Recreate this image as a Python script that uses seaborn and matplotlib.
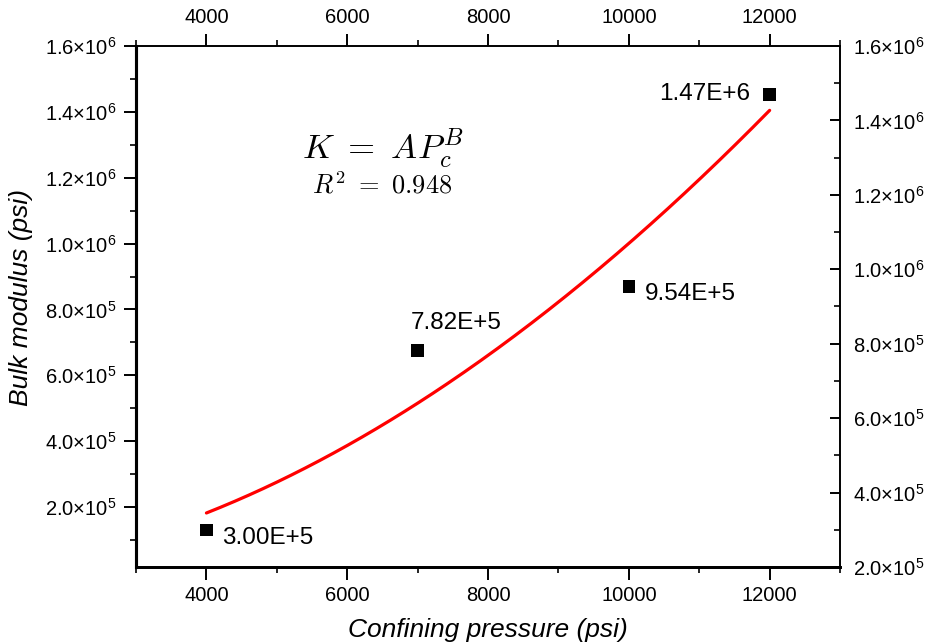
import numpy as np
import pandas as pd
import matplotlib
matplotlib.use("Agg")
import matplotlib.pyplot as plt
import seaborn as sns
from matplotlib.ticker import MultipleLocator, FuncFormatter

# Data (points belong to the right-hand axis)
pressure = [4000, 7000, 10000, 12000]
modulus = [3.00e5, 7.82e5, 9.54e5, 1.47e6]
point_labels = ["3.00E+5", "7.82E+5", "9.54E+5", "1.47E+6"]

# Power-law curve K = A * Pc^B, drawn against the left-hand axis
fit_A = 1.82e5 / 4000 ** 1.86
fit_B = 1.86
fit_range = [4000, 12000]

df = pd.DataFrame({"pressure": pressure, "modulus": modulus})
fit_x = np.linspace(fit_range[0], fit_range[1], 200)
fit_df = pd.DataFrame({"pressure": fit_x, "modulus": fit_A * fit_x ** fit_B})

sns.set_theme(style="ticks")
plt.rcParams["font.family"] = ["Liberation Sans", "DejaVu Sans"]
plt.rcParams["mathtext.fontset"] = "cm"
plt.rcParams["text.color"] = "black"
plt.rcParams["axes.labelcolor"] = "black"

fig = plt.figure(figsize=(9.31, 6.43), dpi=100)
ax = fig.add_axes([0.1461, 0.1182, 0.7562, 0.8103])
ax2 = ax.twinx()

sns.lineplot(data=fit_df, x="pressure", y="modulus", ax=ax, color="#ff0000", linewidth=2.3)
sns.scatterplot(data=df, x="pressure", y="modulus", ax=ax2, marker="s", s=80,
                color="black", edgecolor="none", zorder=5)

offsets = [(16, -8, "left"), (-7, 27, "left"), (16, -8, "left"), (-20, 0, "right")]
for px, py, lab, (dx, dy, ha) in zip(pressure, modulus, point_labels, offsets):
    ax2.annotate(lab, (px, py), xytext=(dx, dy), textcoords="offset pixels",
                 ha=ha, va="center", fontsize=17.5, color="black")

ax.set_xlim(3000, 13000)
ax.set_ylim(1.8e4, 1.6e6)
ax2.set_ylim(2e5, 1.6e6)

def sci(v, pos):
    if v <= 0:
        return ""
    exp = int(np.floor(np.log10(v) + 1e-9))
    mant = v / 10 ** exp
    return r"$\mathregular{%.1f×10^{%d}}$" % (mant, exp)

for a in (ax, ax2):
    a.yaxis.set_major_locator(MultipleLocator(2e5))
    a.yaxis.set_minor_locator(MultipleLocator(1e5))
    a.yaxis.set_major_formatter(FuncFormatter(sci))
ax.set_yticks(np.arange(2e5, 1.61e6, 2e5))
ax2.set_yticks(np.arange(2e5, 1.61e6, 2e5))
ax.xaxis.set_major_locator(MultipleLocator(2000))
ax.xaxis.set_minor_locator(MultipleLocator(1000))
ax.set_xticks([4000, 6000, 8000, 10000, 12000])

ax.tick_params(axis="x", which="both", direction="out", top=True, labeltop=True,
               labelsize=14.5, colors="black", pad=5)
ax.tick_params(axis="y", which="both", direction="out", labelsize=14.5, colors="black", pad=5)
ax.tick_params(which="major", length=9, width=1.4)
ax.tick_params(which="minor", length=4, width=1.2)
ax2.tick_params(axis="y", which="both", direction="in", labelsize=14.5, colors="black", pad=9)
ax2.tick_params(which="major", length=7.5, width=1.4)
ax2.tick_params(which="minor", length=4, width=1.2)

ax.set_xlabel("Confining pressure (psi)", fontsize=19, style="italic", labelpad=9)
ax.set_ylabel("Bulk modulus (psi)", fontsize=19, style="italic")
ax.yaxis.set_label_coords(-0.146, 0.517)
ax2.set_xlabel("")
ax2.set_ylabel("")

for a in (ax, ax2):
    a.spines["left"].set_linewidth(2.2)
    a.spines["bottom"].set_linewidth(2.0)
    a.spines["top"].set_linewidth(1.2)
    a.spines["right"].set_linewidth(1.2)
    for s in a.spines.values():
        s.set_color("black")
        s.set_visible(True)

ax2.text(0.35, 0.803, r"$K\ =\ AP_c^B$", transform=ax.transAxes, ha="center",
         va="center", fontsize=25)
ax2.text(0.35, 0.733, r"$R^2\ =\ 0.948$", transform=ax.transAxes, ha="center",
         va="center", fontsize=19)

fig.savefig("out.png", dpi=100)
